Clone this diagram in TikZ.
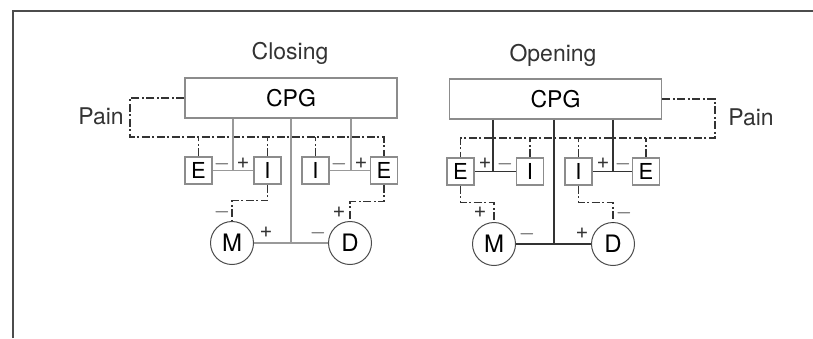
\documentclass[tikz,border=0pt]{standalone}
\usepackage{fontspec}
\setmainfont{TeX Gyre Heros}
\usepackage{tikz}
\usetikzlibrary{arrows.meta, positioning, calc}

\begin{document}
\begin{tikzpicture}[
  x=1pt, y=-1pt,
  cpg/.style={draw=black!45, line width=1.5pt, minimum width=212pt,
              minimum height=40pt, inner sep=0pt, font=\fontsize{23}{23}\selectfont},
  blk/.style={draw=black!45, line width=1.5pt, minimum width=27pt,
              minimum height=27pt, inner sep=0pt, font=\fontsize{22}{22}\selectfont},
  musc/.style={circle, draw=black!70, line width=1pt, minimum size=43pt,
               inner sep=0pt, font=\fontsize{24}{24}\selectfont},
  pain/.style={black!80, line width=1.1pt, dash pattern=on 8pt off 2.5pt on 2pt off 2.5pt},
  wclose/.style={black!40, line width=1.5pt},
  wopen/.style={black!80, line width=1.3pt},
  ttl/.style={font=\fontsize{23}{23}\selectfont, text=black!80},
  sgn/.style={font=\fontsize{22}{22}\selectfont, text=black!80, inner sep=0pt}
]
\useasboundingbox (0,0) rectangle (813,338);
\draw[black!70, line width=1.5pt] (13,338) -- (13,11) -- (813,11);

% closing
\node[ttl] (tC) at (290,53) {Closing};
\node[cpg] (cpgC) at (291,98) {CPG};
\node[ttl] (painC) at (101,116) {Pain};
\node[blk] (eC1) at (198.5,170.5) {E};
\node[blk] (iC1) at (267.5,170.5) {I};
\node[blk] (iC2) at (315.5,170.5) {I};
\node[blk] (eC2) at (384,170.5) {E};
\node[musc] (mC) at (232,243) {M};
\node[musc] (dC) at (350,243) {D};
\coordinate (pC) at (130,137);
\draw[pain] (cpgC.west) -| (pC) -| (eC2.north);
\foreach \b in {eC1,iC1,iC2}
  \draw[pain] (\b.north) -- (\b.north |- pC);
\draw[wclose] (eC1.east) -- (iC1.west);
\draw[wclose] (iC2.east) -- (eC2.west);
\draw[wclose] (mC.east) -- (dC.west);
\draw[wclose] (cpgC.south -| 233,0) -- (233,170.5);
\draw[wclose] (cpgC.south -| 351,0) -- (351,170.5);
\draw[wclose] (cpgC.south) -- (cpgC.south |- mC.east);
\draw[pain] (iC1.south) -- ++(0,16) -| (mC.north);
\draw[pain] (eC2.south) -- ++(0,17) -| (dC.north);
\node[sgn] at (222,164) {$-$};
\node[sgn] at (243,163) {+};
\node[sgn] at (339,164) {$-$};
\node[sgn] at (361,163) {+};
\node[sgn] at (266,232) {+};
\node[sgn] at (318,233) {$-$};
\node[sgn] at (222,212) {$-$};
\node[sgn] at (339,212) {+};

% opening
\node[ttl] (tO) at (553,55) {Opening};
\node[cpg] (cpgO) at (555.5,99) {CPG};
\node[ttl] (painO) at (751,117) {Pain};
\node[blk] (eO1) at (460.5,171.5) {E};
\node[blk] (iO1) at (530,171.5) {I};
\node[blk] (iO2) at (578.5,171.5) {I};
\node[blk] (eO2) at (646,171.5) {E};
\node[musc] (mO) at (494,244) {M};
\node[musc] (dO) at (613,244) {D};
\coordinate (pO) at (715,138);
\draw[pain] (cpgO.east) -| (pO) -| (eO1.north);
\foreach \b in {iO1,iO2,eO2}
  \draw[pain] (\b.north) -- (\b.north |- pO);
\draw[wopen] (eO1.east) -- (iO1.west);
\draw[wopen] (iO2.east) -- (eO2.west);
\draw[wopen] (mO.east) -- (dO.west);
\draw[wopen] (cpgO.south -| 493,0) -- (493,171.5);
\draw[wopen] (cpgO.south -| 613,0) -- (613,171.5);
\draw[wopen] (cpgO.south -| 554,0) -- (554,244);
\draw[pain] (eO1.south) -- ++(0,17) -| (mO.north);
\draw[pain] (iO2.south) -- ++(0,17) -| (dO.north);
\node[sgn] at (485,163) {+};
\node[sgn] at (505,164) {$-$};
\node[sgn] at (603,163) {+};
\node[sgn] at (623,164) {$-$};
\node[sgn] at (527,234) {$-$};
\node[sgn] at (582,233) {+};
\node[sgn] at (480,212) {+};
\node[sgn] at (624,213) {$-$};
\end{tikzpicture}
\end{document}
